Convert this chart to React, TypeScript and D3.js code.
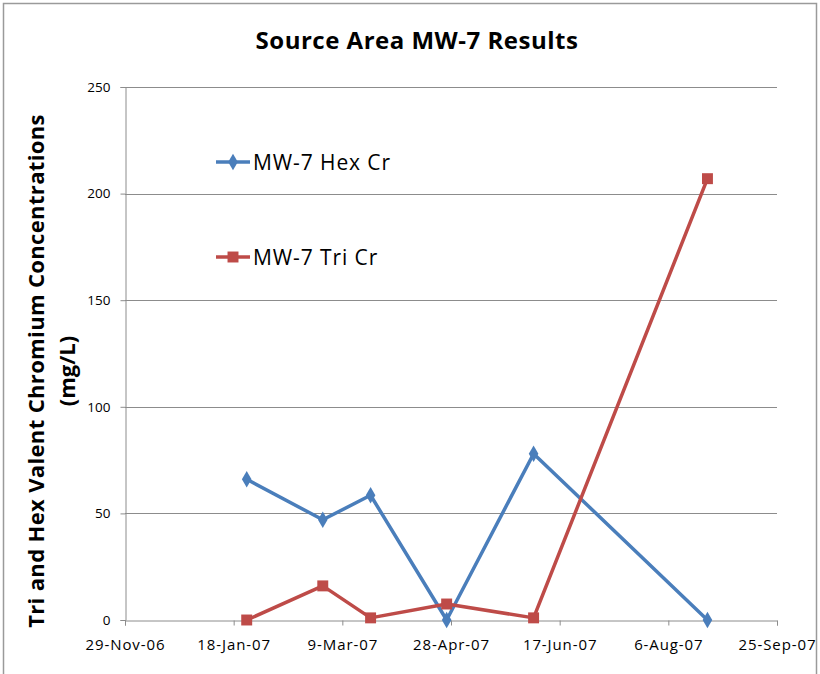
import React, { useEffect, useRef } from "react";
import * as d3 from "d3";

// sample dates and results
const sampleDates = ["2007-01-24", "2007-02-28", "2007-03-22", "2007-04-26", "2007-06-05", "2007-08-24"];
const hexCr = [66, 47, 58.5, 0, 78, 0];
const triCr = [0, 16, 1, 7.5, 1, 207];
const xTicks = ["2006-11-29", "2007-01-18", "2007-03-09", "2007-04-28", "2007-06-17", "2007-08-06", "2007-09-25"];
const yTicks = [0, 50, 100, 150, 200, 250];
const seriesNames = ["MW-7 Hex Cr", "MW-7 Tri Cr"];
const seriesColors = ["#4A7EBB", "#BE4B48"];

const W = 820, H = 674;
const FONT = "'Open Sans', sans-serif";

export default function App() {
    const ref = useRef<SVGSVGElement>(null);

    useEffect(() => {
        const parse = d3.timeParse("%Y-%m-%d");
        const dates = sampleDates.map(d => parse(d) as Date);
        const ticks = xTicks.map(d => parse(d) as Date);
        const margin = { top: 87, right: 43, bottom: 54, left: 125 };

        const x = d3.scaleTime()
            .domain([ticks[0], ticks[ticks.length - 1]])
            .range([margin.left, W - margin.right]);
        const y = d3.scaleLinear()
            .domain([0, 250])
            .range([H - margin.bottom, margin.top]);

        const svg = d3.select(ref.current);
        svg.selectAll("*").remove();

        svg.append("rect")
            .attr("x", 3.5).attr("y", 3.5)
            .attr("width", W - 7).attr("height", H + 10)
            .attr("fill", "white").attr("stroke", "#9a9a9a").attr("stroke-width", 1.5);

        svg.append("text")
            .attr("x", 417).attr("y", 49)
            .attr("text-anchor", "middle")
            .style("font-family", FONT).style("font-weight", "bold").style("font-size", "24px")
            .style("letter-spacing", "0.5px")
            .text("Source Area MW-7 Results");

        // gridlines
        svg.append("g")
            .selectAll("line")
            .data(yTicks.filter(v => v > 0))
            .enter().append("line")
            .attr("x1", x.range()[0]).attr("x2", x.range()[1])
            .attr("y1", d => Math.round(y(d)) + 0.5).attr("y2", d => Math.round(y(d)) + 0.5)
            .attr("stroke", "#8c8c8c").attr("stroke-width", 1);

        const yAxis = svg.append("g")
            .attr("transform", `translate(${margin.left + 0.5},0)`)
            .call(d3.axisLeft(y).tickValues(yTicks).tickSize(5).tickPadding(10));
        yAxis.selectAll("text").style("font-family", FONT).style("font-size", "13.5px").attr("fill", "#000");

        const xAxis = svg.append("g")
            .attr("transform", `translate(0,${H - margin.bottom + 0.5})`)
            .call(d3.axisBottom(x).tickValues(ticks).tickFormat(d3.timeFormat("%-d-%b-%y") as any).tickSize(5).tickPadding(14));
        xAxis.selectAll("text").style("font-family", FONT).style("font-size", "15px")
            .style("letter-spacing", "0.9px").attr("fill", "#000");

        [yAxis, xAxis].forEach(g => {
            g.selectAll(".domain").attr("stroke", "#8c8c8c");
            g.selectAll(".tick line").attr("stroke", "#8c8c8c");
        });

        svg.append("text")
            .attr("transform", `translate(44,371) rotate(-90)`)
            .attr("text-anchor", "middle")
            .style("font-family", FONT).style("font-weight", "bold").style("font-size", "22px")
            .style("letter-spacing", "0.35px")
            .text("Tri and Hex Valent Chromium Concentrations");
        svg.append("text")
            .attr("transform", `translate(75,371) rotate(-90)`)
            .attr("text-anchor", "middle")
            .style("font-family", FONT).style("font-weight", "bold").style("font-size", "22px")
            .text("(mg/L)");

        const line = d3.line<number>()
            .x((d, i) => x(dates[i]))
            .y(d => y(d));

        const diamond = d3.symbol().type(d3.symbolDiamond).size(80);
        const square = d3.symbol().type(d3.symbolSquare).size(120);

        [hexCr, triCr].forEach((vals, k) => {
            svg.append("path")
                .datum(vals)
                .attr("d", line)
                .attr("fill", "none")
                .attr("stroke", seriesColors[k])
                .attr("stroke-width", 3.5)
                .attr("stroke-linejoin", "round");
            svg.append("g")
                .selectAll("path")
                .data(vals)
                .enter().append("path")
                .attr("transform", (d, i) => `translate(${x(dates[i])},${y(d)})`)
                .attr("d", k === 0 ? diamond() : square())
                .attr("fill", seriesColors[k]);
        });

        // legend
        const legendY = [162, 257];
        seriesNames.forEach((name, k) => {
            const g = svg.append("g").attr("transform", `translate(216,${legendY[k]})`);
            g.append("line")
                .attr("x1", 0).attr("x2", 34)
                .attr("stroke", seriesColors[k]).attr("stroke-width", 3.5);
            g.append("path")
                .attr("transform", "translate(17,0)")
                .attr("d", k === 0 ? diamond() : square())
                .attr("fill", seriesColors[k]);
            g.append("text")
                .attr("x", 37).attr("y", 8)
                .style("font-family", FONT).style("font-size", "21px")
                .style("letter-spacing", "0.9px")
                .text(name);
        });
    }, []);

    return (
        <div style={{ position: "absolute", left: 0, top: 0 }}>
            <svg width={W} height={H} ref={ref} style={{ display: "block" }}></svg>
        </div>
    );
}
